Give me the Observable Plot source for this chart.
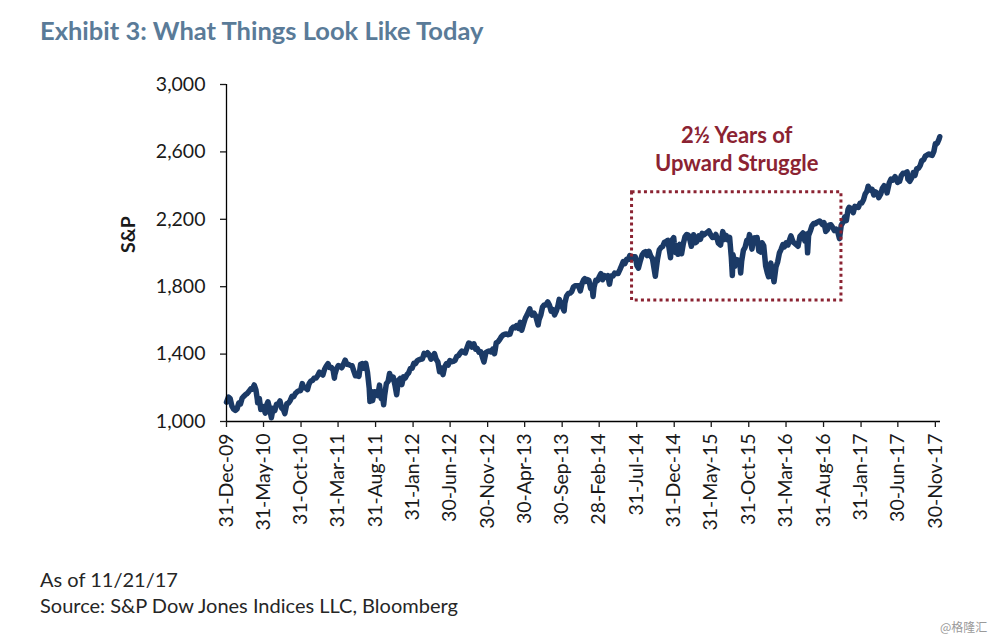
<!DOCTYPE html>
<html>
<head>
<meta charset="utf-8">
<script src="https://cdn.jsdelivr.net/npm/d3@7"></script>
<script src="https://cdn.jsdelivr.net/npm/@observablehq/plot@0.6"></script>
<style>
  body { margin: 0; background: #fff; }
  #wrap { position: relative; width: 1000px; height: 641px; overflow: hidden; font-family: Lato, "Open Sans", sans-serif; }
  #title { position: absolute; left: 40px; top: 15px; font-size: 25.5px; font-weight: bold; color: #5a7b98; white-space: nowrap; }
  #chart { position: absolute; left: 0; top: 0; }
  #foot { position: absolute; left: 40px; top: 566px; font-size: 20px; color: #262626; line-height: 26px; white-space: nowrap; }
  #wm { position: absolute; left: 940px; top: 618px; font-size: 12px; color: #9a9a9a; font-family: "Noto Sans CJK SC", sans-serif; }
</style>
</head>
<body>
<div id="wrap">
  <div id="chart"></div>
  <div id="title">Exhibit 3: What Things Look Like Today</div>
  <div id="foot">As of 11/21/17<br>Source: S&amp;P Dow Jones Indices LLC, Bloomberg</div>
  <div id="wm">@格隆汇</div>
</div>
<script>
// S&P 500 closes (weekly plus notable daily extremes)
const sp2010 = [["2009-12-31",1115],["2010-01-08",1145],["2010-01-15",1136],["2010-01-22",1091],["2010-01-29",1074],["2010-02-05",1066],["2010-02-12",1075],["2010-02-19",1109],["2010-02-26",1104],["2010-03-05",1139],["2010-03-12",1150],["2010-03-19",1160],["2010-03-26",1167],["2010-04-01",1178],["2010-04-09",1194],["2010-04-16",1192],["2010-04-23",1217],["2010-04-30",1187],["2010-05-06",1128],["2010-05-07",1111],["2010-05-14",1136],["2010-05-20",1071],["2010-05-28",1089],["2010-06-04",1065],["2010-06-07",1050],["2010-06-11",1092],["2010-06-18",1117],["2010-06-25",1076],["2010-07-02",1022],["2010-07-09",1078],["2010-07-16",1065],["2010-07-23",1102],["2010-07-30",1102],["2010-08-06",1122],["2010-08-13",1079],["2010-08-20",1071],["2010-08-26",1047],["2010-09-03",1105],["2010-09-10",1110],["2010-09-17",1125],["2010-09-24",1149],["2010-10-01",1147],["2010-10-08",1166],["2010-10-15",1176],["2010-10-22",1183],["2010-10-29",1183],["2010-11-05",1225],["2010-11-12",1200],["2010-11-19",1199],["2010-11-26",1189],["2010-12-03",1225],["2010-12-10",1240],["2010-12-17",1244],["2010-12-23",1257],["2010-12-31",1258]];
const sp2011 = [["2011-01-07",1272],["2011-01-14",1293],["2011-01-21",1283],["2011-01-28",1276],["2011-02-04",1310],["2011-02-11",1329],["2011-02-18",1343],["2011-02-25",1320],["2011-03-04",1321],["2011-03-11",1304],["2011-03-16",1257],["2011-03-18",1279],["2011-03-25",1313],["2011-04-01",1332],["2011-04-08",1328],["2011-04-15",1319],["2011-04-21",1337],["2011-04-29",1364],["2011-05-06",1340],["2011-05-13",1338],["2011-05-20",1333],["2011-05-27",1331],["2011-06-03",1300],["2011-06-10",1271],["2011-06-17",1271],["2011-06-24",1268],["2011-07-01",1340],["2011-07-08",1344],["2011-07-15",1316],["2011-07-22",1345],["2011-07-29",1292],["2011-08-05",1199],["2011-08-08",1119],["2011-08-12",1179],["2011-08-19",1124],["2011-08-26",1177],["2011-09-02",1174],["2011-09-09",1154],["2011-09-16",1216],["2011-09-23",1136],["2011-09-30",1131],["2011-10-03",1099],["2011-10-07",1155],["2011-10-14",1225],["2011-10-21",1238],["2011-10-27",1285],["2011-11-04",1253],["2011-11-11",1263],["2011-11-18",1216],["2011-11-25",1159],["2011-12-02",1244],["2011-12-09",1255],["2011-12-16",1219],["2011-12-23",1265],["2011-12-30",1258]];
const sp2012 = [["2012-01-06",1278],["2012-01-13",1289],["2012-01-20",1315],["2012-01-27",1316],["2012-02-03",1345],["2012-02-10",1343],["2012-02-17",1361],["2012-02-24",1366],["2012-03-02",1370],["2012-03-09",1371],["2012-03-16",1404],["2012-03-23",1397],["2012-03-30",1408],["2012-04-05",1398],["2012-04-13",1370],["2012-04-20",1378],["2012-04-27",1403],["2012-05-04",1369],["2012-05-11",1353],["2012-05-18",1295],["2012-05-25",1318],["2012-06-01",1278],["2012-06-08",1325],["2012-06-15",1343],["2012-06-22",1335],["2012-06-29",1362],["2012-07-06",1355],["2012-07-13",1357],["2012-07-20",1363],["2012-07-27",1386],["2012-08-03",1391],["2012-08-10",1406],["2012-08-17",1418],["2012-08-24",1411],["2012-08-31",1407],["2012-09-07",1438],["2012-09-14",1466],["2012-09-21",1460],["2012-09-28",1441],["2012-10-05",1461],["2012-10-12",1429],["2012-10-19",1433],["2012-10-26",1411],["2012-11-02",1414],["2012-11-09",1380],["2012-11-15",1353],["2012-11-23",1409],["2012-11-30",1416],["2012-12-07",1418],["2012-12-14",1413],["2012-12-21",1430],["2012-12-28",1402],["2012-12-31",1426]];
const sp2013 = [["2013-01-04",1466],["2013-01-11",1472],["2013-01-18",1486],["2013-01-25",1503],["2013-02-01",1513],["2013-02-08",1518],["2013-02-15",1520],["2013-02-22",1515],["2013-03-01",1518],["2013-03-08",1551],["2013-03-15",1561],["2013-03-22",1556],["2013-03-28",1569],["2013-04-05",1553],["2013-04-12",1588],["2013-04-18",1541],["2013-04-26",1582],["2013-05-03",1614],["2013-05-10",1633],["2013-05-21",1669],["2013-05-24",1649],["2013-05-31",1631],["2013-06-07",1643],["2013-06-14",1626],["2013-06-24",1573],["2013-06-28",1606],["2013-07-05",1632],["2013-07-12",1680],["2013-07-19",1692],["2013-07-26",1692],["2013-08-02",1710],["2013-08-09",1691],["2013-08-16",1655],["2013-08-23",1664],["2013-08-30",1633],["2013-09-06",1655],["2013-09-13",1688],["2013-09-18",1725],["2013-09-27",1692],["2013-10-08",1656],["2013-10-11",1703],["2013-10-18",1745],["2013-10-25",1760],["2013-11-01",1762],["2013-11-08",1771],["2013-11-15",1798],["2013-11-22",1805],["2013-11-29",1806],["2013-12-06",1805],["2013-12-13",1775],["2013-12-20",1818],["2013-12-27",1842],["2013-12-31",1848]];
const sp2014 = [["2014-01-03",1831],["2014-01-10",1842],["2014-01-17",1838],["2014-01-24",1790],["2014-01-31",1783],["2014-02-03",1742],["2014-02-07",1797],["2014-02-14",1838],["2014-02-21",1836],["2014-02-28",1859],["2014-03-07",1878],["2014-03-14",1841],["2014-03-21",1866],["2014-03-28",1857],["2014-04-04",1865],["2014-04-11",1815],["2014-04-17",1864],["2014-04-25",1863],["2014-05-02",1881],["2014-05-09",1878],["2014-05-16",1878],["2014-05-23",1900],["2014-05-30",1924],["2014-06-06",1949],["2014-06-13",1937],["2014-06-20",1963],["2014-06-27",1961],["2014-07-03",1985],["2014-07-11",1968],["2014-07-18",1978],["2014-07-25",1978],["2014-08-01",1925],["2014-08-07",1910],["2014-08-15",1955],["2014-08-22",1988],["2014-08-29",2003],["2014-09-05",2008],["2014-09-12",1985],["2014-09-19",2010],["2014-09-26",1982],["2014-10-03",1968],["2014-10-10",1906],["2014-10-15",1862],["2014-10-17",1887],["2014-10-24",1965],["2014-10-31",2018],["2014-11-07",2032],["2014-11-14",2039],["2014-11-21",2064],["2014-11-28",2068],["2014-12-05",2075],["2014-12-16",1972],["2014-12-19",2071],["2014-12-29",2091],["2014-12-31",2059]];
const sp2015 = [["2015-01-06",2003],["2015-01-09",2045],["2015-01-15",1992],["2015-01-23",2051],["2015-01-30",1995],["2015-02-06",2055],["2015-02-13",2097],["2015-02-20",2110],["2015-02-27",2105],["2015-03-06",2071],["2015-03-11",2040],["2015-03-20",2108],["2015-03-27",2061],["2015-04-02",2067],["2015-04-10",2102],["2015-04-17",2081],["2015-04-24",2117],["2015-05-01",2108],["2015-05-08",2116],["2015-05-15",2123],["2015-05-21",2131],["2015-05-29",2107],["2015-06-05",2092],["2015-06-12",2094],["2015-06-19",2110],["2015-06-29",2058],["2015-07-08",2047],["2015-07-17",2127],["2015-07-24",2080],["2015-07-31",2104],["2015-08-07",2078],["2015-08-14",2092],["2015-08-21",1971],["2015-08-25",1867],["2015-08-28",1989],["2015-09-04",1921],["2015-09-11",1961],["2015-09-18",1958],["2015-09-25",1931],["2015-09-28",1881],["2015-10-02",1951],["2015-10-09",2015],["2015-10-16",2033],["2015-10-23",2075],["2015-10-30",2079],["2015-11-03",2109],["2015-11-13",2023],["2015-11-20",2089],["2015-11-27",2090],["2015-12-04",2092],["2015-12-11",2012],["2015-12-18",2006],["2015-12-24",2061],["2015-12-31",2044]];
const sp2016 = [["2016-01-08",1922],["2016-01-15",1880],["2016-01-20",1859],["2016-01-22",1907],["2016-01-29",1940],["2016-02-05",1880],["2016-02-11",1829],["2016-02-19",1918],["2016-02-26",1948],["2016-03-04",2000],["2016-03-11",2022],["2016-03-18",2050],["2016-03-24",2036],["2016-03-31",2060],["2016-04-08",2048],["2016-04-15",2081],["2016-04-20",2102],["2016-04-29",2065],["2016-05-06",2057],["2016-05-19",2040],["2016-05-27",2099],["2016-06-08",2119],["2016-06-16",2071],["2016-06-23",2113],["2016-06-27",2001],["2016-07-01",2103],["2016-07-08",2130],["2016-07-15",2162],["2016-07-22",2175],["2016-07-29",2174],["2016-08-05",2183],["2016-08-15",2190],["2016-08-19",2184],["2016-08-26",2169],["2016-09-02",2180],["2016-09-09",2128],["2016-09-16",2139],["2016-09-23",2165],["2016-09-30",2168],["2016-10-07",2153],["2016-10-14",2133],["2016-10-21",2141],["2016-10-28",2126],["2016-11-04",2085],["2016-11-11",2164],["2016-11-18",2182],["2016-11-25",2213],["2016-12-02",2192],["2016-12-09",2259],["2016-12-13",2271],["2016-12-23",2263],["2016-12-30",2239]];
const sp2017 = [["2017-01-06",2277],["2017-01-13",2275],["2017-01-20",2271],["2017-01-27",2295],["2017-02-03",2297],["2017-02-10",2316],["2017-02-17",2351],["2017-02-24",2367],["2017-03-01",2396],["2017-03-10",2373],["2017-03-17",2378],["2017-03-24",2344],["2017-03-31",2363],["2017-04-07",2355],["2017-04-13",2329],["2017-04-21",2349],["2017-04-28",2384],["2017-05-05",2399],["2017-05-12",2391],["2017-05-17",2357],["2017-05-26",2416],["2017-06-02",2439],["2017-06-09",2432],["2017-06-19",2453],["2017-06-23",2438],["2017-06-29",2419],["2017-07-07",2425],["2017-07-14",2459],["2017-07-21",2473],["2017-07-28",2472],["2017-08-07",2481],["2017-08-10",2438],["2017-08-18",2426],["2017-08-25",2444],["2017-09-01",2477],["2017-09-08",2461],["2017-09-15",2500],["2017-09-22",2502],["2017-09-29",2519],["2017-10-06",2549],["2017-10-13",2553],["2017-10-20",2575],["2017-10-27",2581],["2017-11-03",2588],["2017-11-10",2582],["2017-11-17",2579],["2017-11-24",2603],["2017-11-30",2648],["2017-12-01",2642],["2017-12-08",2652],["2017-12-15",2676],["2017-12-18",2690]];

const yTicks = [1000, 1400, 1800, 2200, 2600, 3000];
const xTickLabels = ["2009-12-31","2010-05-31","2010-10-31","2011-03-31","2011-08-31","2012-01-31","2012-06-30","2012-11-30","2013-04-30","2013-09-30","2014-02-28","2014-07-31","2014-12-31","2015-05-31","2015-10-31","2016-03-31","2016-08-31","2017-01-31","2017-06-30","2017-11-30"];
const xDomain = ["2009-12-31", "2017-12-21"];
const yDomain = [1000, 3000];
const boxDates = ["2014-07-12", "2016-11-12"];
const boxValues = [1718, 2360];
const annotation = [{date: "2015-09-12", value: 2622, label: "2½ Years of\nUpward Struggle"}];
const yLabel = "S&P";

const parse = d3.utcParse("%Y-%m-%d");
const data = [...sp2010, ...sp2011, ...sp2012, ...sp2013, ...sp2014, ...sp2015, ...sp2016, ...sp2017]
  .map(([d, v]) => ({date: parse(d), value: v}));
const box = [{x1: parse(boxDates[0]), x2: parse(boxDates[1]), y1: boxValues[0], y2: boxValues[1]}];
const annot = annotation.map(a => ({...a, date: parse(a.date)}));

const chart = Plot.plot({
  width: 1000,
  height: 560,
  marginLeft: 226,
  marginRight: 60,
  marginTop: 84,
  marginBottom: 139,
  style: {fontFamily: "Lato, 'Open Sans', sans-serif", color: "#1a1a1a", background: "transparent"},
  x: {type: "utc", domain: xDomain.map(parse)},
  y: {domain: yDomain},
  marks: [
    Plot.line(data, {x: "date", y: "value", stroke: "#1b3a66", strokeWidth: 5.5, strokeLinejoin: "round", strokeLinecap: "round"}),
    Plot.rect(box, {x1: "x1", x2: "x2", y1: "y1", y2: "y2", fill: "none", stroke: "#8b2332", strokeWidth: 3, strokeDasharray: "3,3.2"}),
    Plot.ruleX([parse(xDomain[0])], {y1: yDomain[0], y2: yDomain[1], stroke: "#000", strokeWidth: 1.3}),
    Plot.ruleY([yDomain[0]], {stroke: "#000", strokeWidth: 1.3}),
    Plot.axisY({ticks: yTicks, tickFormat: d3.format(","), tickSize: 6, tickPadding: 15, fontSize: 19.5, label: null, strokeWidth: 1.3}),
    Plot.axisX({ticks: xTickLabels.map(parse), tickFormat: d3.utcFormat("%d-%b-%y"), tickRotate: -90, tickSize: 6, tickPadding: 6, fontSize: 19.5, label: null, strokeWidth: 1.3}),
    Plot.text([yLabel], {text: d => d, frameAnchor: "left", dx: -98, rotate: -90, fontSize: 19.5, fontWeight: "bold", fill: "#1a1a1a"}),
    Plot.text(annot, {x: "date", y: "value", text: "label", fontSize: 22, fontWeight: "bold", fill: "#8b2332", lineHeight: 1.25, textAnchor: "middle"})
  ]
});
document.getElementById("chart").appendChild(chart);
</script>
</body>
</html>
